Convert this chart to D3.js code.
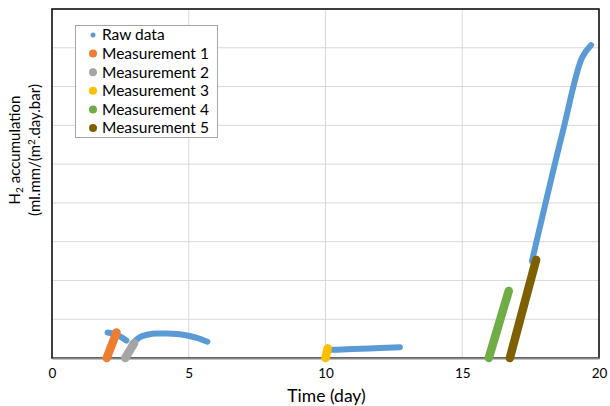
<!DOCTYPE html>
<html><head><meta charset="utf-8">
<script src="https://cdn.jsdelivr.net/npm/d3@7"></script>
<style>body{margin:0;background:#fff}svg{display:block}text{font-family:Lato,"Liberation Sans",sans-serif;fill:#000}</style>
</head><body><svg id="c" width="610" height="406"></svg>
<script>
// ---- data (y in gridline units) ----
const xTicks = [0, 5, 10, 15, 20];
const yGrid = [0, 1, 2, 3, 4, 5, 6, 7, 8, 9];
const seriesNames = ["Raw data", "Measurement 1", "Measurement 2", "Measurement 3", "Measurement 4", "Measurement 5"];
const seriesColors = ["#5B9BD5", "#ED7D31", "#A5A5A5", "#FFC000", "#70AD47", "#7F6000"];
const rawA = [[2.03,0.66],[2.3,0.62],[2.5,0.55],[2.72,0.45]];
const rawB = [[2.96,0.39],[3.22,0.54],[3.48,0.60],[3.84,0.63],[4.2,0.63],[4.57,0.62],[4.94,0.58],[5.3,0.52],[5.68,0.42]];
const rawC = [[10.18,0.21],[11.0,0.23],[12.0,0.26],[12.72,0.28]];
const rawD = [[17.55,2.5],[18.69,5.88],[19.37,7.73],[19.71,8.07]];
const meas1 = [[2.0,0.0],[2.36,0.66]];
const meas2 = [[2.68,0.0],[3.0,0.38]];
const meas3 = [[10.0,0.0],[10.08,0.25]];
const meas4 = [[15.97,0.0],[16.7,1.73]];
const meas5 = [[16.74,0.0],[17.7,2.53]];

const svg = d3.select("#c");
const L = 52, R = 599, T = 9, B = 358;
const x = d3.scaleLinear().domain([0, 20]).range([L, R]);
const y = d3.scaleLinear().domain([0, 9]).range([B, T]);

// gridlines
svg.append("g").selectAll("line").data(yGrid.slice(1, -1)).join("line")
  .attr("x1", L).attr("x2", R).attr("y1", d => y(d)).attr("y2", d => y(d))
  .attr("stroke", "#d9d9d9").attr("stroke-width", 1);
svg.append("g").selectAll("line").data(xTicks.slice(1, -1)).join("line")
  .attr("y1", T).attr("y2", B).attr("x1", d => x(d)).attr("x2", d => x(d))
  .attr("stroke", "#d9d9d9").attr("stroke-width", 1);

// plot border
svg.append("rect").attr("x", L).attr("y", T).attr("width", R - L).attr("height", B - T)
  .attr("fill", "none").attr("stroke", "#000").attr("stroke-width", 1.5);

// x axis
const xAxis = svg.append("g").attr("transform", `translate(0,${B})`)
  .call(d3.axisBottom(x).tickValues(xTicks).tickSize(0).tickPadding(10));
xAxis.select(".domain").attr("stroke", "#888").attr("stroke-width", 2);
xAxis.selectAll("text").attr("font-size", "13.5px").attr("fill", "#000").attr("font-family", "Lato");

// series
const lineRaw = d3.line().x(d => x(d[0])).y(d => y(d[1])).curve(d3.curveMonotoneX);
const lineM = d3.line().x(d => x(d[0])).y(d => y(d[1]));
const plot = svg.append("g");
[rawA, rawB, rawC, rawD].forEach(s => plot.append("path").attr("d", lineRaw(s))
  .attr("fill", "none").attr("stroke", seriesColors[0]).attr("stroke-width", 6)
  .attr("stroke-linecap", "round").attr("stroke-linejoin", "round"));
[meas1, meas2, meas3, meas4, meas5].forEach((s, i) => plot.append("path").attr("d", lineM(s))
  .attr("fill", "none").attr("stroke", seriesColors[i + 1]).attr("stroke-width", 8.5)
  .attr("stroke-linecap", "round"));

// legend
const lg = svg.append("g");
lg.append("rect").attr("x", 75.5).attr("y", 25.5).attr("width", 142).attr("height", 112)
  .attr("fill", "#fff").attr("stroke", "#a6a6a6").attr("stroke-width", 1);
seriesNames.forEach((n, i) => {
  const cy = 35 + i * 18.6;
  lg.append("circle").attr("cx", 93).attr("cy", cy).attr("r", i === 0 ? 2.5 : 4).attr("fill", seriesColors[i]);
  lg.append("text").attr("x", 102).attr("y", cy).attr("dy", "0.35em").attr("font-size", "15.5px").text(n);
});

// axis titles
svg.append("text").attr("x", (L + R) / 2 + 1).attr("y", 401.5)
  .attr("text-anchor", "middle").attr("font-size", "17.5px").text("Time (day)");
const yt = svg.append("g").attr("transform", "translate(0,150) rotate(-90)");
const t1 = yt.append("text").attr("x", 0).attr("y", 15).attr("dy", "0.35em").attr("text-anchor", "middle").attr("font-size", "15px");
t1.append("tspan").text("H");
t1.append("tspan").attr("font-size", "10px").attr("dy", "3").text("2");
t1.append("tspan").attr("dy", "-3").text(" accumulation");
const t2 = yt.append("text").attr("x", 0).attr("y", 35).attr("dy", "0.35em").attr("text-anchor", "middle").attr("font-size", "15px");
t2.append("tspan").text("(ml.mm/(m");
t2.append("tspan").attr("font-size", "10px").attr("dy", "-5").text("2");
t2.append("tspan").attr("dy", "5").text(".day.bar)");
</script></body></html>
